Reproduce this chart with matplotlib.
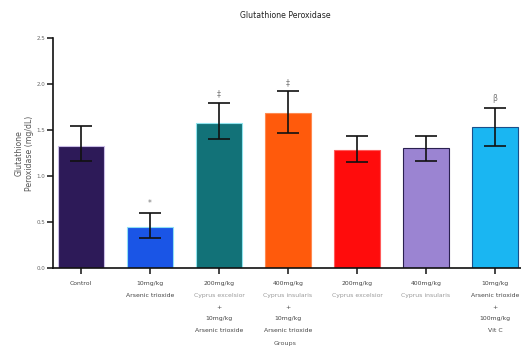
import matplotlib
matplotlib.use("Agg")
import matplotlib.pyplot as plt

groups = ["Control", "10mg/kg Arsenic trioxide", "200mg/kg C. excelsior + As", "400mg/kg C. insularis + As",
          "200mg/kg C. excelsior", "400mg/kg C. insularis", "10mg/kg As + Vit C"]
means = [1.33, 0.45, 1.58, 1.69, 1.28, 1.30, 1.53]
err_low = [0.17, 0.12, 0.18, 0.22, 0.13, 0.14, 0.20]
err_high = [0.21, 0.15, 0.21, 0.23, 0.16, 0.14, 0.21]
marks = ["", "*", "‡", "‡", "", "", "β"]
colors = ["#2d1a58", "#1a55e6", "#127278", "#ff5a0c", "#ff0c0c", "#9b84d2", "#1ab6f2"]
edges = ["#c9bde6", "#8fe0f5", "#8fe4ee", "#ff8a50", "#ff5a5a", "#2a2050", "#1a4f8a"]
tick_lines = [
    [("Control", "#444444")],
    [("10mg/kg", "#444444"), ("Arsenic trioxide", "#444444")],
    [("200mg/kg", "#444444"), ("Cyprus excelsior", "#9a9a9a"), ("+", "#444444"),
     ("10mg/kg", "#444444"), ("Arsenic trioxide", "#444444")],
    [("400mg/kg", "#444444"), ("Cyprus insularis", "#9a9a9a"), ("+", "#444444"),
     ("10mg/kg", "#444444"), ("Arsenic trioxide", "#444444")],
    [("200mg/kg", "#444444"), ("Cyprus excelsior", "#9a9a9a")],
    [("400mg/kg", "#444444"), ("Cyprus insularis", "#9a9a9a")],
    [("10mg/kg", "#444444"), ("Arsenic trioxide", "#444444"), ("+", "#444444"),
     ("100mg/kg", "#444444"), ("Vit C", "#444444")],
]
yticks = [0.0, 0.5, 1.0, 1.5, 2.0, 2.5]

fig = plt.figure(figsize=(5.21, 3.5), dpi=100)
ax = fig.add_axes([53/521, 1-268/350, 1-53/521, (268-38)/350])

x = list(range(len(means)))
ax.bar(x, means, width=0.67, color=colors, edgecolor=edges, linewidth=0.8, zorder=2)
ax.errorbar(x, means, yerr=[err_low, err_high], fmt="none", ecolor="#111111",
            elinewidth=1.2, capsize=8, capthick=1.2, zorder=3)
for xi, m, eh, mk in zip(x, means, err_high, marks):
    if mk:
        ax.text(xi, m + eh + 0.05, mk, ha="center", va="bottom", fontsize=5.5, color="#777777")

ax.set_xlim(-0.406, 6.377)
ax.set_ylim(0, 2.5)
ax.set_yticks(yticks)
ax.set_yticklabels([f"{v:.1f}" for v in yticks], fontsize=4, color="#666666")
ax.set_xticks(x)
ax.set_xticklabels([""] * len(x))
for s in ["top", "right"]:
    ax.spines[s].set_visible(False)
for s in ["left", "bottom"]:
    ax.spines[s].set_linewidth(1.2)
    ax.spines[s].set_color("#111111")
ax.tick_params(axis="both", direction="out", length=4, width=1.1, color="#111111", pad=1.5)

trans = ax.get_xaxis_transform()
for xi, lines in zip(x, tick_lines):
    for k, (t, c) in enumerate(lines):
        ax.text(xi, -0.068 - k * 0.051, t, transform=trans, ha="center", va="center",
                fontsize=4.4, color=c)

fig.text(285/521, 1-343/350, "Groups", ha="center", va="center", fontsize=4.6, color="#555555")
ax.set_ylabel("Glutathione\nPeroxidase (mg/dL)", fontsize=5.6, color="#555555", labelpad=2,
              linespacing=1.2)
fig.text(285/521, 1-16/350, "Glutathione Peroxidase", ha="center", va="center", fontsize=5.6,
         color="#222222")

fig.savefig("out.png", dpi=100)
